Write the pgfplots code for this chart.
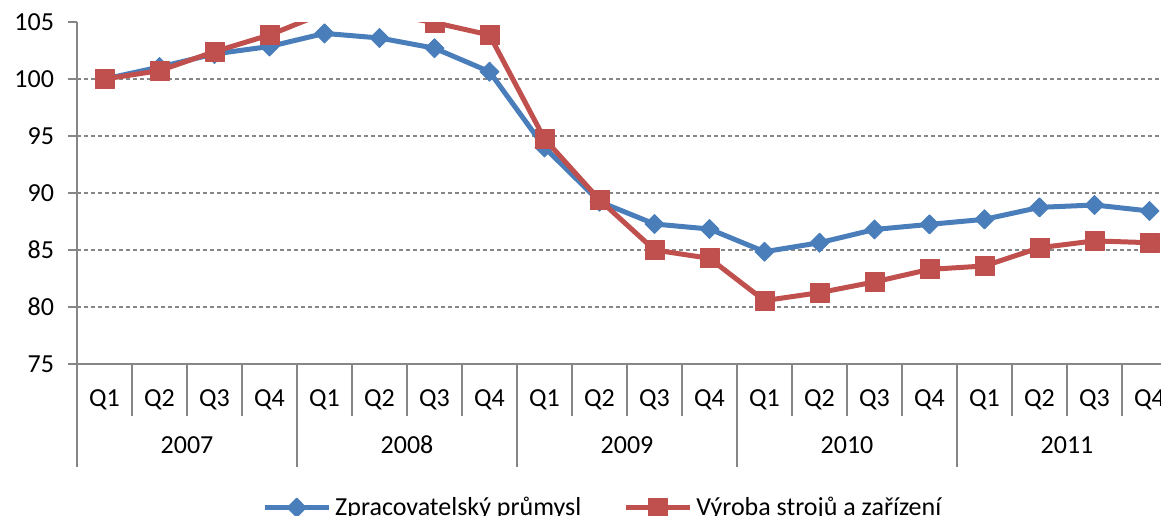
\documentclass[border=0pt]{standalone}
\usepackage{pgfplots}
\pgfplotsset{compat=1.18}
\usepackage{fontspec}
\setmainfont{Carlito}
\definecolor{serblue}{RGB}{74,126,187}
\definecolor{serred}{RGB}{192,80,77}
\definecolor{axgray}{RGB}{134,134,134}
\begin{document}
\begin{tikzpicture}[font=\fontsize{13}{16}\selectfont]
\begin{axis}[
  at={(0,0)}, anchor=south west,
  scale only axis, width=550pt, height=171pt,
  xmin=-0.5, xmax=19.5, ymin=75, ymax=105,
  axis x line*=bottom, axis y line*=left,
  axis line style={draw=axgray, line width=1pt},
  /pgf/number format/assume math mode=true,
  tick label style={font=\fontsize{13}{16}\selectfont, text=black},
  yticklabel style={xshift=-3.5pt},
  xticklabel style={yshift=-5pt},
  ytick={75,80,...,105},
  extra y ticks={80,85,90,95,100},
  extra y tick labels={},
  extra y tick style={grid=major},
  grid style={draw=axgray, line width=1pt, dash pattern=on 2pt off 1.5pt},
  tick align=outside,
  major tick length=4.5pt,
  ytick style={draw=axgray, line width=1pt},
  xtick={-0.5,0.5,...,19.5},
  x tick label as interval,
  xticklabels={Q1,Q2,Q3,Q4,Q1,Q2,Q3,Q4,Q1,Q2,Q3,Q4,Q1,Q2,Q3,Q4,Q1,Q2,Q3,Q4},
  xtick style={draw=axgray, line width=1pt, /pgfplots/major tick length=26pt},
  clip marker paths=true,
  legend style={at={(axis description cs:0.168,-0.42)}, anchor=west, draw=none, fill=none,
    legend columns=2, inner sep=0pt, font=\fontsize{13}{16}\selectfont,
    /tikz/every even column/.append style={column sep=19pt}},
  legend image code/.code={\draw[#1, mark repeat=2, mark phase=2] plot coordinates {(0pt,0pt) (16pt,0pt) (32pt,0pt)};},
  extra description/.code={
    \foreach \i in {0,0.2,0.4,0.6,0.8,1.0} {
      \draw[axgray, line width=1pt] (axis description cs:\i,0) -- ([yshift=-51.5pt]axis description cs:\i,0);
    }
    \foreach \x/\lab in {0.1/2007,0.3/2008,0.5/2009,0.7/2010,0.9/2011} {
      \node[anchor=center, inner sep=0pt] at ([yshift=-40.5pt]axis description cs:\x,0) {\lab};
    }
  },
]
\addplot[serblue, line width=2.5pt, line join=round, mark=diamond*, mark size=4.75pt,
  mark options={solid, fill=serblue, draw=serblue, line width=0.5pt, xscale=1.33}]
  coordinates {
  (0,100) (1,101.05) (2,102.2) (3,102.85) (4,104.0) (5,103.6) (6,102.7) (7,100.64)
  (8,94.0) (9,89.24) (10,87.28) (11,86.84) (12,84.85) (13,85.64) (14,86.8) (15,87.25)
  (16,87.69) (17,88.74) (18,88.95) (19,88.42)
  };
\addlegendentry{Zpracovatelský průmysl}
\addplot[serred, line width=2.5pt, line join=round, mark=square*, mark size=4.75pt,
  mark options={solid, fill=serred, draw=serred, line width=0.5pt}]
  coordinates {
  (0,100) (1,100.73) (2,102.4) (3,103.86) (4,105.8) (5,105.8) (6,104.95) (7,103.86)
  (8,94.75) (9,89.4) (10,85.0) (11,84.27) (12,80.56) (13,81.26) (14,82.2) (15,83.3)
  (16,83.6) (17,85.2) (18,85.8) (19,85.64)
  };
\addlegendentry{Výroba strojů a zařízení}
\end{axis}
\pgfresetboundingbox
\useasboundingbox (-38.5pt,-75.5pt) rectangle (542pt,182pt);
\end{tikzpicture}
\end{document}
